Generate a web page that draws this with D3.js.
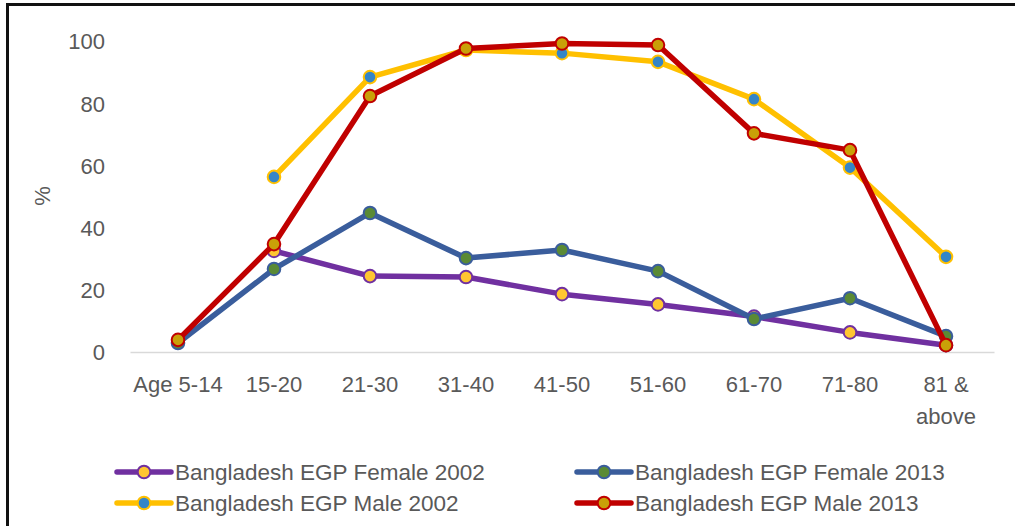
<!DOCTYPE html>
<html>
<head>
<meta charset="utf-8">
<script src="https://cdn.jsdelivr.net/npm/d3@7/dist/d3.min.js"></script>
<style>
  html, body { margin: 0; padding: 0; background: #fff; }
  svg { display: block; }
  text { font-family: "Liberation Sans", Arial, sans-serif; fill: #595959; }
</style>
</head>
<body>
<svg id="chart" width="1015" height="526"></svg>
<script>
// Age groups along the x axis
const categories = ["Age 5-14", "15-20", "21-30", "31-40", "41-50", "51-60", "61-70", "71-80", "81 & above"];

// Economic participation (%) per age group; null = no value recorded
const female2002 = [null, 32.5, 24.4, 24.1, 18.6, 15.3, 11.4, 6.3, 2.2];
const female2013 = [2.9, 26.7, 44.7, 30.2, 32.8, 26.0, 10.6, 17.3, 5.1];
const male2002   = [null, 56.3, 88.4, 97.1, 96.1, 93.3, 81.3, 59.3, 30.6];
const male2013   = [3.9, 34.7, 82.3, 97.6, 99.2, 98.7, 70.3, 64.9, 2.2];

const yTicks = [0, 20, 40, 60, 80, 100];

const seriesNames = [
  "Bangladesh EGP Female 2002",
  "Bangladesh EGP Female 2013",
  "Bangladesh EGP Male 2002",
  "Bangladesh EGP Male 2013"
];

const series = [
  { name: seriesNames[0], values: female2002, line: "#7030A0", fill: "#FFC631" },
  { name: seriesNames[1], values: female2013, line: "#3A5D9C", fill: "#5A8A35" },
  { name: seriesNames[2], values: male2002,   line: "#FFC000", fill: "#3485C8" },
  { name: seriesNames[3], values: male2013,   line: "#C00000", fill: "#C9A008" }
];

const svg = d3.select("#chart");

// frame (top and left edges)
svg.append("line").attr("x1", 7).attr("x2", 1015).attr("y1", 4.5).attr("y2", 4.5)
  .attr("stroke", "#111").attr("stroke-width", 3);
svg.append("line").attr("x1", 7.5).attr("x2", 7.5).attr("y1", 3).attr("y2", 526)
  .attr("stroke", "#111").attr("stroke-width", 3);

const x = d3.scaleBand().domain(categories).range([130, 994]);
const y = d3.scaleLinear().domain([0, 100]).range([352, 41]);

// x axis
const xAxis = svg.append("g")
  .attr("transform", `translate(0,${y(0)})`)
  .call(d3.axisBottom(x).tickSize(0).tickPadding(0));
xAxis.select(".domain").attr("stroke", "#D9D9D9").attr("stroke-width", 1.5);
xAxis.selectAll(".tick text").remove();
xAxis.selectAll(".tick").each(function(d) {
  const t = d3.select(this).append("text")
    .attr("text-anchor", "middle")
    .style("font-size", "22px")
    .attr("fill", "#595959");
  const parts = d === "81 & above" ? ["81 &", "above"] : [d];
  parts.forEach((p, i) => {
    t.append("tspan").attr("x", 0).attr("y", 40 + i * 32).text(p);
  });
});

// y axis
const yAxis = svg.append("g")
  .attr("transform", "translate(105,0)")
  .call(d3.axisLeft(y).tickValues(yTicks).tickSize(0).tickPadding(0));
yAxis.select(".domain").remove();
yAxis.selectAll(".tick text")
  .style("font-size", "22px")
  .attr("fill", "#595959")
  .attr("dy", "0.36em");

// y axis title
svg.append("text")
  .attr("transform", "translate(50,196) rotate(-90)")
  .attr("text-anchor", "middle")
  .style("font-size", "22px")
  .text("%");

// lines and markers
const line = d3.line()
  .defined(d => d != null)
  .x((d, i) => x(categories[i]) + x.bandwidth() / 2)
  .y(d => y(d));

series.forEach(s => {
  const g = svg.append("g");
  g.append("path")
    .datum(s.values)
    .attr("d", line)
    .attr("fill", "none")
    .attr("stroke", s.line)
    .attr("stroke-width", 5.5)
    .attr("stroke-linejoin", "round");
  g.selectAll("circle")
    .data(s.values.map((v, i) => ({ v, c: categories[i] })).filter(d => d.v != null))
    .join("circle")
    .attr("cx", d => x(d.c) + x.bandwidth() / 2)
    .attr("cy", d => y(d.v))
    .attr("r", 6.3)
    .attr("fill", s.fill)
    .attr("stroke", s.line)
    .attr("stroke-width", 2);
});

// legend
const legendPos = [
  { lx: 117, ly: 472 },
  { lx: 577, ly: 472 },
  { lx: 117, ly: 503 },
  { lx: 577, ly: 503 }
];
series.forEach((s, i) => {
  const p = legendPos[i];
  const g = svg.append("g").attr("transform", `translate(${p.lx},${p.ly})`);
  g.append("line").attr("x1", 0).attr("x2", 54).attr("y1", 0).attr("y2", 0)
    .attr("stroke", s.line).attr("stroke-width", 5.5).attr("stroke-linecap", "round");
  g.append("circle").attr("cx", 27).attr("cy", 0).attr("r", 6.3)
    .attr("fill", s.fill).attr("stroke", s.line).attr("stroke-width", 2);
  g.append("text").attr("x", 58).attr("y", 8)
    .style("font-size", "22.5px")
    .text(s.name);
});
</script>
</body>
</html>
